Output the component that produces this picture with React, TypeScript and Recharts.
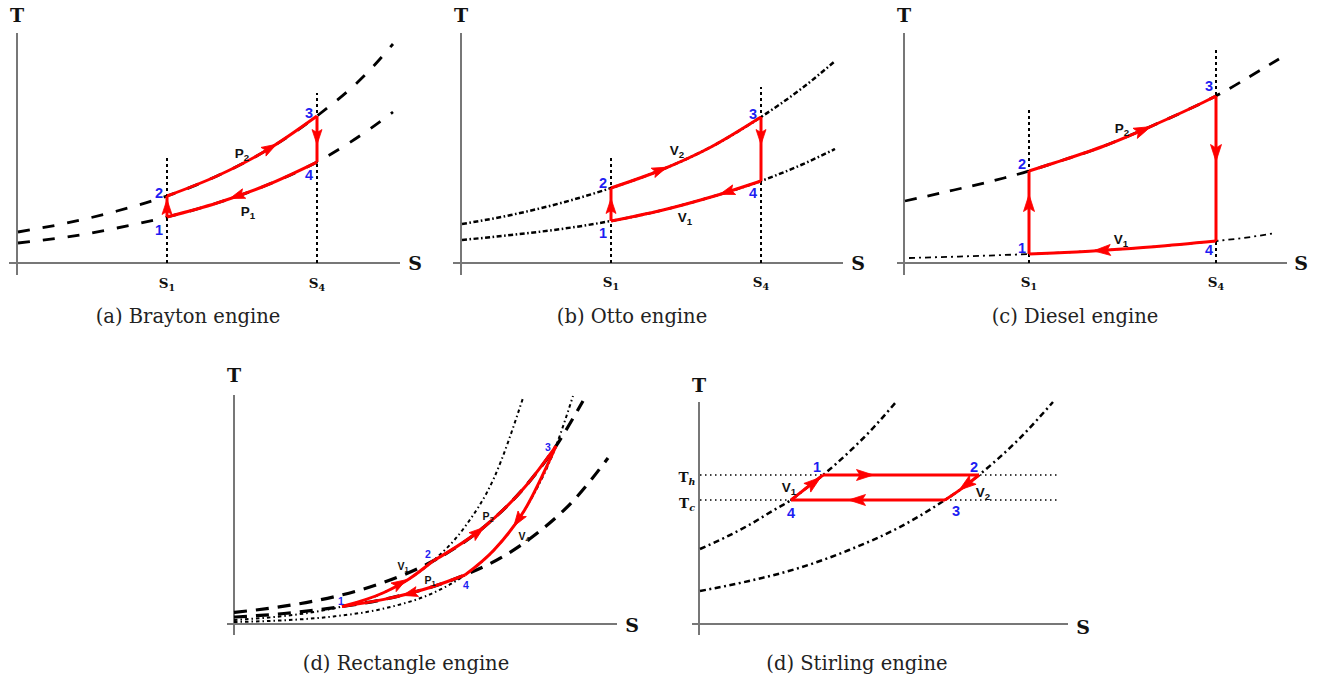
import React from 'react';
import { LineChart, Line, XAxis, YAxis, ReferenceLine, ReferenceDot } from 'recharts';

type Pt = [number, number];

// (a) Brayton engine: two isobars
const braytonS: Pt = [150, 300]; // S1, S4
const braytonP2: Pt[] = [[1, 31], [50, 40], [100, 52], [150, 67], [200, 87], [250, 113], [300, 147], [350, 190], [376, 219]];
const braytonP1: Pt[] = [[1, 20], [50, 26], [100, 35], [150, 46], [200, 60], [250, 78], [300, 101], [350, 132], [376, 151]];

// (b) Otto engine: two isochores
const ottoS: Pt = [150, 300];
const ottoV2: Pt[] = [[1, 39], [50, 48], [100, 60], [150, 75], [200, 93], [250, 116], [300, 146], [340, 174], [373, 201]];
const ottoV1: Pt[] = [[1, 23], [50, 28], [100, 34], [150, 42], [200, 52.5], [250, 66], [300, 82], [340, 98], [374, 114]];

// (c) Diesel engine: isobar + isochore
const dieselS: Pt = [125, 312];
const dieselP2: Pt[] = [[1, 62], [50, 73], [100, 85], [125, 92], [150, 100], [200, 117], [250, 138], [300, 161], [312, 167], [350, 189], [375, 204]];
const dieselV1: Pt[] = [[5, 5], [50, 6.3], [100, 8], [125, 9], [150, 10], [200, 12.8], [250, 16.3], [312, 22], [350, 26.5], [371, 30]];

// (d) Rectangle engine
const rectV1: Pt[] = [[0, 4], [50, 8], [80, 12], [108, 17.5], [150, 31.5], [175, 45], [199, 63], [230, 96], [260, 146], [289, 226]];
const rectP2: Pt[] = [[0, 11.6], [50, 17.8], [100, 27.2], [150, 41.7], [199, 63], [250, 97], [290, 136], [322, 178], [349, 223]];
const rectV4: Pt[] = [[0, 2], [50, 3.7], [100, 7.6], [150, 15.5], [200, 31.5], [231, 49], [260, 74], [290, 113], [322, 178], [339, 228]];
const rectP1: Pt[] = [[0, 6.9], [50, 10.5], [108, 17.5], [150, 24.6], [200, 37.8], [231, 49], [270, 68], [306, 93], [340, 124], [374, 166]];
const rectCorners: Pt = [108, 322]; // S at 1 and 3
const rectMid: Pt = [199, 231]; // S at 2 and 4

// (e) Stirling engine
const stirlingT: Pt = [149, 124]; // Th, Tc
const stirlingV1: Pt[] = [[1, 75], [25, 86], [50, 99], [75, 114], [92, 124], [108, 136.5], [124, 149], [150, 172], [175, 197], [197, 222]];
const stirlingV2: Pt[] = [[1, 33], [50, 43], [100, 56], [150, 74], [200, 96.5], [246, 124], [263, 135.6], [280, 149], [320, 185], [354, 222]];
const stirlingS: Pt[] = [[124, 280], [92, 246]]; // hot side 1->2, cold side 4->3

const captions = ['(a) Brayton engine', '(b) Otto engine', '(c) Diesel engine', '(d) Rectangle engine', '(d) Stirling engine'];

const RED = '#ff0000';
const BLUE = '#1d1df2';
const AXIS = '#777777';
const SERIF = "'DejaVu Serif', serif";
const SANS = "'Liberation Sans', Arial, sans-serif";

const pts = (a: Pt[]) => a.map(([x, y]) => ({ x, y }));
const span = (a: Pt[], lo: number, hi: number) => pts(a.filter(([x]) => x >= lo && x <= hi));
const at = (a: Pt[], x: number) => a.find((p) => p[0] === x)![1];

const curve = (key: string, data: any[], stroke: string, width: number, dash?: string, type: any = 'monotone') => (
  <Line key={key} data={data} dataKey="y" type={type} stroke={stroke} strokeWidth={width} strokeDasharray={dash}
    dot={false} activeDot={false} isAnimationActive={false} strokeLinecap="butt" />
);
const vline = (key: string, x: number, y1: number, y2: number, stroke: string, width: number, dash?: string) =>
  curve(key, [{ x, y: y1 }, { x, y: y2 }], stroke, width, dash, 'linear');
const hline = (key: string, x1: number, x2: number, y: number, stroke: string, width: number, dash?: string) =>
  curve(key, [{ x: x1, y }, { x: x2, y }], stroke, width, dash, 'linear');

const axes = (xmin: number, xmax: number, ymin: number, ymax: number) => [
  <ReferenceLine key="ax" segment={[{ x: xmin, y: 0 }, { x: xmax, y: 0 }]} stroke={AXIS} strokeWidth={2} ifOverflow="visible" />,
  <ReferenceLine key="ay" segment={[{ x: 0, y: ymin }, { x: 0, y: ymax }]} stroke={AXIS} strokeWidth={2} ifOverflow="visible" />,
];

const note = (key: string, x: number, y: number, content: React.ReactNode, style: any) => (
  <ReferenceDot key={key} x={x} y={y} r={0} ifOverflow="visible"
    shape={(p: any) => (
      <text x={p.cx} y={p.cy} textAnchor="middle" dominantBaseline="central" {...style}>{content}</text>
    )} />
);
const axisName = (key: string, x: number, y: number, t: string) =>
  note(key, x, y, t, { fontFamily: SERIF, fontWeight: 700, fontSize: 19, fill: '#111' });
const tick = (key: string, x: number, y: number, main: string, sub: string, italic = false) =>
  note(key, x, y, <><tspan>{main}</tspan><tspan dy={4} fontSize={9.5} fontStyle={italic ? 'italic' : 'normal'}>{sub}</tspan></>,
    { fontFamily: SERIF, fontWeight: 700, fontSize: 13.5, fill: '#111' });
const num = (key: string, x: number, y: number, t: string, size = 14.5) =>
  note(key, x, y, t, { fontFamily: SANS, fontWeight: 700, fontSize: size, fill: BLUE });
const lab = (key: string, x: number, y: number, main: string, sub: string, size = 13.5) =>
  note(key, x, y, <><tspan>{main}</tspan><tspan dy={size * 0.3} fontSize={size * 0.72}>{sub}</tspan></>,
    { fontFamily: SANS, fontWeight: 700, fontSize: size, fill: '#111' });
const arrow = (key: string, x: number, y: number, angle: number, len = 15, wid = 10) => (
  <ReferenceDot key={key} x={x} y={y} r={0} ifOverflow="visible"
    shape={(p: any) => (
      <path d={`M${len / 2},0 L${-len / 2},${-wid / 2} L${-len * 0.3},0 L${-len / 2},${wid / 2} Z`}
        transform={`translate(${p.cx},${p.cy}) rotate(${angle})`} fill={RED} stroke={RED} strokeWidth={0.8} strokeLinejoin="round" />
    )} />
);

function Panel({ ox, oy, xd, yd, children }: { ox: number; oy: number; xd: [number, number]; yd: [number, number]; children: any }) {
  return (
    <div style={{ position: 'absolute', left: ox + xd[0], top: oy - yd[1] }}>
      <LineChart width={xd[1] - xd[0]} height={yd[1] - yd[0]} margin={{ top: 0, right: 0, bottom: 0, left: 0 }}>
        <XAxis type="number" dataKey="x" domain={xd} hide allowDataOverflow />
        <YAxis type="number" domain={yd} hide allowDataOverflow />
        {children}
      </LineChart>
    </div>
  );
}

const captionPos: Pt[] = [[188, 316], [632, 316], [1075, 316], [406, 663], [857, 663]];

export default function App() {
  const [bs1, bs4] = braytonS;
  const [os1, os4] = ottoS;
  const [ds1, ds4] = dieselS;
  const [r1, r3] = rectCorners;
  const [r2, r4] = rectMid;
  const [th, tc] = stirlingT;
  const dotted = '3 3';
  return (
    <div style={{ position: 'absolute', left: 0, top: 0, width: 1331, height: 681, background: '#fff', overflow: 'hidden' }}>
      <Panel ox={17} oy={263} xd={[-16, 412]} yd={[-34, 262]}>
        {[
          ...axes(-8, 383, -12, 230),
          curve('p2', pts(braytonP2), '#000', 2.8, '12 13'),
          curve('p1', pts(braytonP1), '#000', 2.8, '12 13'),
          vline('s1', bs1, 0, 106, '#000', 2, dotted),
          vline('s4', bs4, 0, 170, '#000', 2, dotted),
          curve('rp2', span(braytonP2, bs1, bs4), RED, 3),
          curve('rp1', span(braytonP1, bs1, bs4), RED, 3),
          vline('r12', bs1, at(braytonP1, bs1), at(braytonP2, bs1), RED, 3),
          vline('r34', bs4, at(braytonP2, bs4), at(braytonP1, bs4), RED, 3),
          arrow('a1', bs1, 56, -90),
          arrow('a2', 253, 115, -30),
          arrow('a3', bs4, 126, 90),
          arrow('a4', 220, 67, 161),
          axisName('T', 0, 248, 'T'),
          axisName('S', 398, 0, 'S'),
          tick('t1', bs1, -20, 'S', '1'),
          tick('t4', bs4, -20, 'S', '4'),
          num('n1', 142, 33, '1'),
          num('n2', 142, 70, '2'),
          num('n3', 292, 150, '3'),
          num('n4', 292, 88, '4'),
          lab('lp2', 225, 110, 'P', '2'),
          lab('lp1', 231, 52, 'P', '1'),
        ]}
      </Panel>

      <Panel ox={461} oy={263} xd={[-16, 412]} yd={[-34, 262]}>
        {[
          ...axes(-8, 382, -12, 230),
          curve('v2', pts(ottoV2), '#000', 2.5, '5 2.5 1.6 2.5'),
          curve('v1', pts(ottoV1), '#000', 2.5, '5 2.5 1.6 2.5'),
          vline('s1', os1, 0, 106, '#000', 2, dotted),
          vline('s4', os4, 0, 176, '#000', 2, dotted),
          curve('rv2', span(ottoV2, os1, os4), RED, 3),
          curve('rv1', span(ottoV1, os1, os4), RED, 3),
          vline('r12', os1, at(ottoV1, os1), at(ottoV2, os1), RED, 3),
          vline('r34', os4, at(ottoV2, os4), at(ottoV1, os4), RED, 3),
          arrow('a1', os1, 57, -90, 15, 10),
          arrow('a2', 199, 93, -22, 15, 10),
          arrow('a3', os4, 126, 90, 15, 10),
          arrow('a4', 266, 71, 162, 15, 10),
          axisName('T', 0, 248, 'T'),
          axisName('S', 397, 0, 'S'),
          tick('t1', os1, -19, 'S', '1'),
          tick('t4', os4, -19, 'S', '4'),
          num('n1', 142, 30, '1'),
          num('n2', 142, 80, '2'),
          num('n3', 292, 149, '3'),
          num('n4', 292, 70, '4'),
          lab('lv2', 216, 113, 'V', '2'),
          lab('lv1', 224, 46, 'V', '1'),
        ]}
      </Panel>

      <Panel ox={904} oy={263} xd={[-16, 412]} yd={[-34, 262]}>
        {[
          ...axes(-7, 383, -12, 230),
          curve('p2', pts(dieselP2), '#000', 2.8, '12 11'),
          curve('v1', pts(dieselV1), '#000', 1.8, '6 4 2 4'),
          vline('s1', ds1, 0, 153, '#000', 2, dotted),
          vline('s4', ds4, 0, 216, '#000', 2, dotted),
          curve('rp2', span(dieselP2, ds1, ds4), RED, 3),
          curve('rv1', span(dieselV1, ds1, ds4), RED, 3),
          vline('r12', ds1, at(dieselV1, ds1), at(dieselP2, ds1), RED, 3),
          vline('r34', ds4, at(dieselP2, ds4), at(dieselV1, ds4), RED, 3),
          arrow('a1', ds1, 60, -90, 17, 11),
          arrow('a2', 239, 133, -23, 17, 11),
          arrow('a3', ds4, 110, 90, 17, 11),
          arrow('a4', 198, 12.6, 177, 17, 11),
          axisName('T', 0, 248, 'T'),
          axisName('S', 397, 0, 'S'),
          tick('t1', ds1, -19, 'S', '1'),
          tick('t4', ds4, -19, 'S', '4'),
          num('n1', 118, 15, '1'),
          num('n2', 118, 99, '2'),
          num('n3', 305, 177, '3'),
          num('n4', 305, 13, '4'),
          lab('lp2', 218, 135, 'P', '2'),
          lab('lv1', 217, 24, 'V', '1'),
        ]}
      </Panel>

      <Panel ox={234} oy={624} xd={[-16, 412]} yd={[-34, 262]}>
        {[
          ...axes(-7, 383, -11, 229),
          curve('v1', pts(rectV1), '#000', 2, '3.5 3 1.5 3'),
          curve('v4', pts(rectV4), '#000', 2, '3.5 3 1.5 3'),
          curve('p2', pts(rectP2), '#000', 3.2, '13 9'),
          curve('p1', pts(rectP1), '#000', 3.2, '13 9'),
          curve('rv1', span(rectV1, r1, r2), RED, 3),
          curve('rp2', span(rectP2, r2, r3), RED, 3),
          curve('rv4', span(rectV4, r4, r3), RED, 3),
          curve('rp1', span(rectP1, r1, r4), RED, 3),
          arrow('a1', 166, 40.5, -31, 15, 10),
          arrow('a2', 244, 92, -38, 15, 10),
          arrow('a3', 284, 104, 124, 15, 10),
          arrow('a4', 176, 30.5, 165, 15, 10),
          axisName('T', 0, 249, 'T'),
          axisName('S', 398, -1, 'S'),
          num('n1', 107, 23, '1', 10.5),
          num('n2', 194, 70, '2', 10.5),
          num('n3', 314, 177, '3', 10.5),
          num('n4', 232, 39, '4', 10.5),
          lab('lv1', 169, 58, 'V', '1', 10.5),
          lab('lp2', 254, 108, 'P', '2', 10.5),
          lab('lv4', 290, 88, 'V', '4', 10.5),
          lab('lp1', 196, 44, 'P', '1', 10.5),
        ]}
      </Panel>

      <Panel ox={699} oy={624} xd={[-30, 400]} yd={[-34, 262]}>
        {[
          ...axes(-7, 369, -11, 222),
          hline('th', 1, 361, th, '#000', 1.4, '1.5 3.5'),
          hline('tc', 1, 361, tc, '#000', 1.4, '1.5 3.5'),
          curve('v1', pts(stirlingV1), '#000', 2.5, '6 3.5 2 3.5'),
          curve('v2', pts(stirlingV2), '#000', 2.5, '6 3.5 2 3.5'),
          hline('r12', stirlingS[0][0], stirlingS[0][1], th, RED, 3),
          hline('r34', stirlingS[1][0], stirlingS[1][1], tc, RED, 3),
          curve('rv2', span(stirlingV2, stirlingS[1][1], stirlingS[0][1]), RED, 3),
          curve('rv1', span(stirlingV1, stirlingS[1][0], stirlingS[0][0]), RED, 3),
          arrow('a1', 166, th, 0, 17, 11),
          arrow('a2', 267, 139, 143, 17, 11),
          arrow('a3', 158, tc, 180, 17, 11),
          arrow('a4', 115, 141.5, -38, 17, 11),
          axisName('T', 0, 239, 'T'),
          axisName('S', 384, -3, 'S'),
          tick('th', -12, 147, 'T', 'h', true),
          tick('tc', -12, 121, 'T', 'c', true),
          num('n1', 118, 157, '1'),
          num('n2', 275, 157, '2'),
          num('n3', 257, 113, '3'),
          num('n4', 92, 111, '4'),
          lab('lv1', 90, 137, 'V', '1'),
          lab('lv2', 284, 132, 'V', '2'),
        ]}
      </Panel>

      {captions.map((c, i) => (
        <div key={c + i} style={{
          position: 'absolute', left: captionPos[i][0], top: captionPos[i][1], transform: 'translate(-50%, -50%)',
          fontFamily: SERIF, fontSize: 19.5, whiteSpace: 'nowrap', color: '#222',
        }}>{c}</div>
      ))}
    </div>
  );
}
